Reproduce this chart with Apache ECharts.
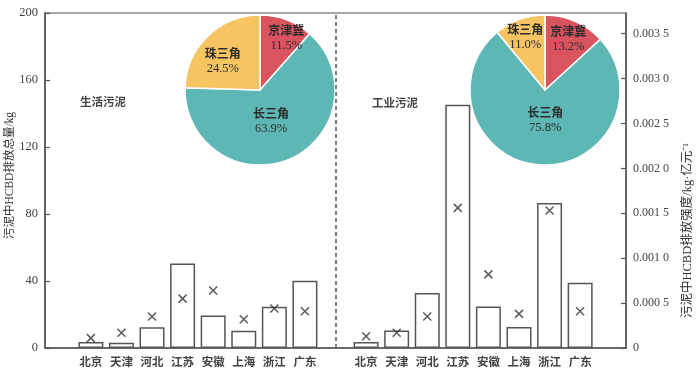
<!DOCTYPE html>
<html>
<head>
<meta charset="utf-8">
<script src="https://cdn.jsdelivr.net/npm/echarts@6/dist/echarts.min.js"></script>
<style>html,body{margin:0;padding:0;background:#fff}#c{width:700px;height:372px}</style>
</head>
<body>
<div id="c"></div>
<script>
// ---- data ----
const provinces = ['北京','天津','河北','江苏','安徽','上海','浙江','广东'];
const domesticTotal = [3.6, 3.1, 12.4, 50.4, 19.4, 10.3, 24.7, 40.1];          // kg
const domesticIntensity = [0.00011, 0.00017, 0.00035, 0.00055, 0.00064, 0.00032, 0.00044, 0.00041]; // kg/亿元
const industrialTotal = [3.6, 10.5, 32.8, 145.2, 24.8, 12.5, 86.6, 39.0];
const industrialIntensity = [0.00013, 0.00017, 0.00035, 0.00156, 0.00082, 0.00038, 0.00153, 0.00041];
const regions = ['京津冀','长三角','珠三角'];
const domesticShare = [11.5, 63.9, 24.5];
const industrialShare = [13.2, 75.8, 11.0];
const panelTitles = ['生活污泥','工业污泥'];
const leftAxisName = '污泥中HCBD排放总量/kg';
const rightAxisName = '污泥中HCBD排放强度/kg·亿元⁻¹';
const leftTicks = [0, 40, 80, 120, 160, 200];
const rightTicks = [0, 0.0005, 0.001, 0.0015, 0.002, 0.0025, 0.003, 0.0035];

// categories: blank | 8 provinces | blank (divider) | 8 provinces | blank
const categories = [''].concat(provinces, [' '], provinces, ['  ']);
const dividerIndex = provinces.length + 1;
const totals = [null].concat(domesticTotal, [null], industrialTotal, [null]);
const intensities = [null].concat(domesticIntensity, [null], industrialIntensity, [null]);

const pieColors = ['#d9545f', '#5db7b4', '#f6c561'];
const serifCJK = "'Liberation Serif','Noto Sans CJK SC'";
const axisColor = '#555';

function fmtRight(v) {
  if (v === 0) return '0';
  let s = v.toFixed(4);
  return s.slice(0, 5) + ' ' + s.slice(5);
}
function isTick(list, v) { return list.some(t => Math.abs(t - v) < 1e-9); }

function pieSeries(values, center, offsets) {
  return {
    type: 'pie',
    center: center,
    radius: 75,
    startAngle: 90,
    clockwise: true,
    silent: true,
    itemStyle: { borderColor: '#fff', borderWidth: 1.5 },
    label: {
      show: true,
      position: 'inside',
      formatter: p => '{n|' + p.name + '}\n{v|' + p.value.toFixed(1) + '%}',
      rich: {
        n: { fontFamily: "'Noto Sans CJK SC'", fontSize: 12, color: '#2b2b2b', lineHeight: 15, fontWeight: 'bold' },
        v: { fontFamily: "'Liberation Serif'", fontSize: 12.5, color: '#2b2b2b', lineHeight: 15 }
      }
    },
    labelLayout: p => ({ dx: offsets[p.dataIndex][0], dy: offsets[p.dataIndex][1] }),
    data: regions.map((r, i) => ({ name: r, value: values[i], itemStyle: { color: pieColors[i] } }))
  };
}

const chart = echarts.init(document.getElementById('c'), null, { renderer: 'canvas' });
chart.setOption({
  animation: false,
  backgroundColor: '#fff',
  title: [
    { text: panelTitles[0], left: 75, top: 91, textStyle: { fontFamily: "'Noto Sans CJK SC'", fontSize: 11.5, fontWeight: 'bold', color: '#444' } },
    { text: panelTitles[1], left: 367, top: 92, textStyle: { fontFamily: "'Noto Sans CJK SC'", fontSize: 11.5, fontWeight: 'bold', color: '#444' } }
  ],
  grid: { left: 45, right: 74, top: 13, bottom: 24, containLabel: false, outerBoundsMode: 'none',
    show: true, borderColor: axisColor, borderWidth: 1.2, backgroundColor: 'transparent' },
  xAxis: {
    type: 'category',
    data: categories,
    axisLine: { lineStyle: { color: axisColor, width: 1.5 } },
    axisTick: { show: false },
    axisLabel: { interval: 0, margin: 8, fontFamily: "'Noto Sans CJK SC'", fontSize: 11.5, fontWeight: 'bold', color: '#444' }
  },
  yAxis: [
    {
      type: 'value', min: 0, max: 200, interval: 40, position: 'left',
      name: leftAxisName, nameLocation: 'middle', nameGap: 29, nameMoveOverlap: false,
      nameTextStyle: { fontFamily: serifCJK, fontSize: 11.5, color: '#333', padding: [0, 0, 0, 10] },
      axisLine: { show: true, lineStyle: { color: axisColor, width: 1.5 } },
      axisTick: { show: true, inside: true, length: 5, lineStyle: { color: axisColor, width: 1.2 } },
      axisLabel: { margin: 7, fontFamily: "'Liberation Serif'", fontSize: 12.5, color: '#444',
        formatter: v => isTick(leftTicks, v) ? String(v) : '' },
      splitLine: { show: false }
    },
    {
      type: 'value', min: 0, max: 0.00373, interval: 0.0005, position: 'right',
      name: rightAxisName, nameLocation: 'middle', nameGap: 55, nameRotate: 90, nameMoveOverlap: false,
      nameTextStyle: { fontFamily: serifCJK, fontSize: 12.5, color: '#333', padding: [0, 100, 0, 0] },
      axisLine: { show: true, lineStyle: { color: axisColor, width: 1.5 } },
      axisTick: { show: true, inside: true, length: 5, lineStyle: { color: axisColor, width: 1.2 } },
      axisLabel: { margin: 7, showMaxLabel: false, fontFamily: "'Liberation Serif'", fontSize: 12, color: '#444',
        formatter: v => isTick(rightTicks, v) ? fmtRight(v) : '' },
      splitLine: { show: false }
    }
  ],
  series: [
    {
      type: 'bar',
      yAxisIndex: 0,
      data: totals,
      barWidth: 25,
      itemStyle: { color: '#fff', borderColor: '#555', borderWidth: 1.5 },
      markLine: {
        silent: true, symbol: 'none', label: { show: false },
        lineStyle: { color: '#555', width: 1.5, type: [4, 3] },
        data: [{ xAxis: dividerIndex }]
      }
    },
    {
      type: 'scatter',
      yAxisIndex: 1,
      data: intensities,
      symbol: 'path://M0,0L10,10M10,0L0,10',
      symbolSize: 8,
      itemStyle: { color: 'rgba(0,0,0,0)', borderColor: '#333', borderWidth: 1.5 }
    },
    pieSeries(domesticShare, [260, 90], [[12, -14], [-5, -6], [-9, 0]]),
    pieSeries(industrialShare, [545, 90], [[7, -14], [3, -10], [-6, -15]])
  ]
});
</script>
</body>
</html>
